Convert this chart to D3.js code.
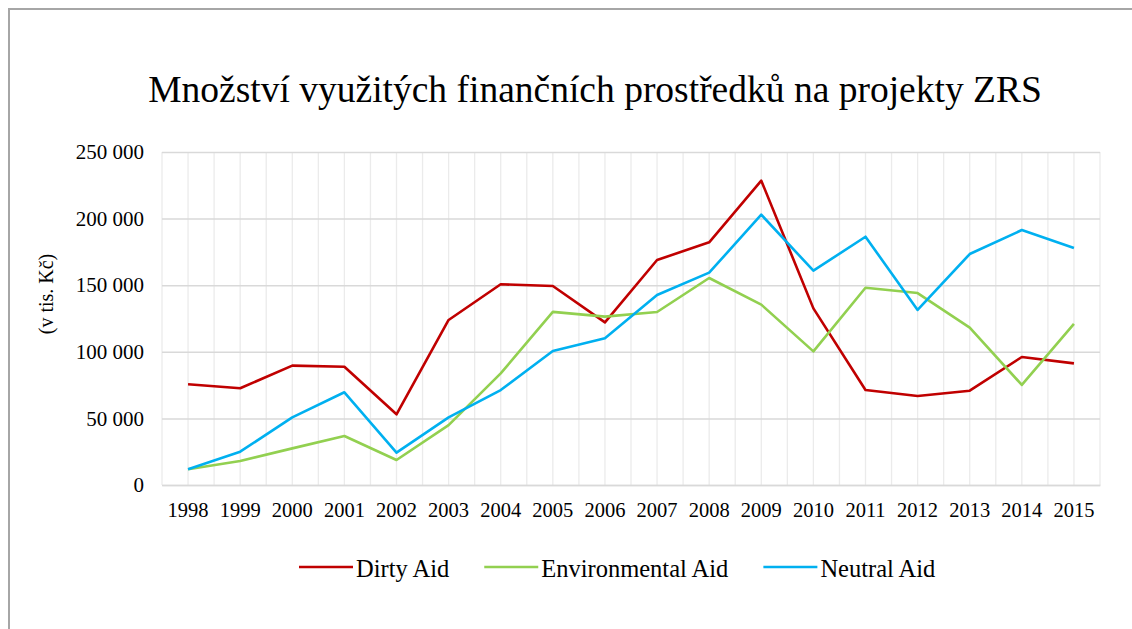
<!DOCTYPE html>
<html>
<head>
<meta charset="utf-8">
<script src="https://cdn.jsdelivr.net/npm/d3@7"></script>
<style>
  body { margin: 0; background: #fff; }
  svg { display: block; }
  text { font-family: "Liberation Serif", serif; }
</style>
</head>
<body>
<svg id="chart" width="1132" height="629"></svg>
<script>
var years = ["1998","1999","2000","2001","2002","2003","2004","2005","2006","2007","2008","2009","2010","2011","2012","2013","2014","2015"];
var dirtyAid = [75600, 72600, 89600, 88800, 53100, 123900, 150700, 149400, 122100, 168900, 182200, 228500, 132600, 71300, 66800, 70800, 96100, 91300];
var environmentalAid = [11800, 18000, 27500, 36800, 18800, 45000, 83800, 130000, 126400, 129900, 155400, 135400, 100300, 148100, 144100, 118100, 75100, 120900];
var neutralAid = [11800, 25000, 50800, 69600, 24300, 50800, 71300, 100600, 110100, 142600, 159400, 202900, 160900, 186400, 131400, 173400, 191400, 177900];
var yTicks = [0, 50000, 100000, 150000, 200000, 250000];
var seriesNames = ["Dirty Aid", "Environmental Aid", "Neutral Aid"];
var seriesColors = ["#C00000", "#92D050", "#00B0F0"];

var serif = "'Liberation Serif', 'Times New Roman', serif";
var svg = d3.select("#chart");
var margin = {left: 162, top: 152, right: 1100, bottom: 485};

// outer chart border (only top/left visible in the picture)
svg.append("rect")
    .attr("x", 9).attr("y", 9)
    .attr("width", 1200).attr("height", 700)
    .attr("fill", "none")
    .attr("stroke", "#A6A6A6")
    .attr("stroke-width", 2);

var x = d3.scaleBand().domain(years).range([margin.left, margin.right]);
var y = d3.scaleLinear().domain([0, 250000]).range([margin.bottom, margin.top]);

// vertical gridlines at band edges and centers
var vLines = [];
years.forEach(function(d) {
    vLines.push(x(d));
    vLines.push(x(d) + x.bandwidth() / 2);
});
vLines.push(margin.right);

svg.append("g").selectAll("line")
    .data(vLines)
    .enter().append("line")
    .attr("x1", function(d) { return d; })
    .attr("x2", function(d) { return d; })
    .attr("y1", margin.top)
    .attr("y2", margin.bottom)
    .attr("stroke", "#EBEBEB")
    .attr("stroke-width", 1.3);

// horizontal gridlines + y axis labels
var yAxis = d3.axisLeft(y)
    .tickValues(yTicks)
    .tickSize(-(margin.right - margin.left))
    .tickPadding(18)
    .tickFormat(function(d) { return d3.format(",")(d).replace(/,/g, " "); });

var gy = svg.append("g")
    .attr("transform", "translate(" + margin.left + ",0)")
    .call(yAxis);
gy.select(".domain").remove();
gy.selectAll(".tick line").attr("stroke", "#D9D9D9").attr("stroke-width", 1.5);
gy.selectAll(".tick text")
    .attr("fill", "#000")
    .style("font-family", serif)
    .style("font-size", "21px");

// x axis labels
var xAxis = d3.axisBottom(x).tickSize(0).tickPadding(17);
var gx = svg.append("g")
    .attr("transform", "translate(0," + margin.bottom + ")")
    .call(xAxis);
gx.select(".domain").attr("stroke", "#D9D9D9").attr("stroke-width", 1.5);
gx.selectAll(".tick text")
    .attr("fill", "#000")
    .style("font-family", serif)
    .style("font-size", "20.5px");

// series lines
var allSeries = [dirtyAid, environmentalAid, neutralAid];
var line = d3.line()
    .x(function(d, i) { return x(years[i]) + x.bandwidth() / 2; })
    .y(function(d) { return y(d); });

svg.append("g").selectAll("path")
    .data(allSeries)
    .enter().append("path")
    .attr("d", line)
    .attr("fill", "none")
    .attr("stroke", function(d, i) { return seriesColors[i]; })
    .attr("stroke-width", 2.6)
    .attr("stroke-linejoin", "round");

// title
svg.append("text")
    .attr("x", 595).attr("y", 102)
    .attr("text-anchor", "middle")
    .style("font-family", serif)
    .style("font-size", "37.5px")
    .text("Množství využitých finančních prostředků na projekty ZRS");

// y axis title
svg.append("text")
    .attr("transform", "translate(53,294) rotate(-90)")
    .attr("text-anchor", "middle")
    .style("font-family", serif)
    .style("font-size", "20px")
    .text("(v tis. Kč)");

// legend
var legend = svg.append("g").attr("transform", "translate(299,567)");
var lx = 0;
seriesNames.forEach(function(name, i) {
    var item = legend.append("g").attr("transform", "translate(" + lx + ",0)");
    item.append("line")
        .attr("x1", 0).attr("x2", 54)
        .attr("y1", 0).attr("y2", 0)
        .attr("stroke", seriesColors[i])
        .attr("stroke-width", 2.6);
    var t = item.append("text")
        .attr("x", 57).attr("y", 10)
        .style("font-family", serif)
        .style("font-size", "24.5px")
        .text(name);
    lx += 57 + t.node().getComputedTextLength() + 35;
});
</script>
</body>
</html>
